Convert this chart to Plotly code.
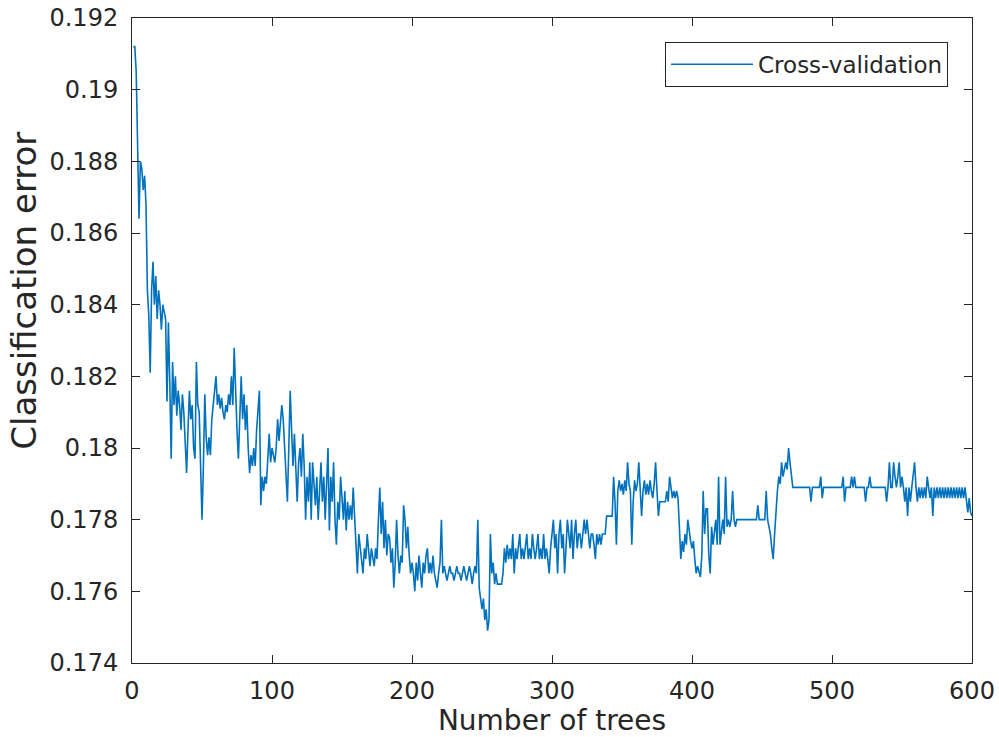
import plotly.graph_objects as go

# Classification error per number of trees (trees 1..600)
cv_error = [
    0.1912, 0.1912, 0.1905, 0.1880, 0.1864, 0.1880, 0.1878, 0.1872, 0.1876, 0.1868,
    0.1844, 0.1837, 0.1821, 0.1844, 0.1852, 0.1840, 0.1848, 0.1836, 0.1844, 0.1840,
    0.1833, 0.1840, 0.1838, 0.1836, 0.1813, 0.1835, 0.1818, 0.1797, 0.1824, 0.1812,
    0.1820, 0.1809, 0.1816, 0.1812, 0.1805, 0.1815, 0.1810, 0.1800, 0.1793, 0.1805,
    0.1816, 0.1808, 0.1812, 0.1800, 0.1797, 0.1824, 0.1812, 0.1810, 0.1798, 0.1780,
    0.1795, 0.1815, 0.1803, 0.1798, 0.1803, 0.1798, 0.1808, 0.1812, 0.1816, 0.1820,
    0.1812, 0.1815, 0.1811, 0.1814, 0.1810, 0.1808, 0.1812, 0.1810, 0.1815, 0.1812,
    0.1820, 0.1812, 0.1828, 0.1815, 0.1805, 0.1797, 0.1812, 0.1820, 0.1808, 0.1815,
    0.1805, 0.1812, 0.1800, 0.1793, 0.1798, 0.1795, 0.1800, 0.1795, 0.1805, 0.1812,
    0.1816, 0.1784, 0.1792, 0.1788, 0.1792, 0.1790, 0.1796, 0.1804, 0.1796, 0.1800,
    0.1798, 0.1796, 0.1800, 0.1808, 0.1802, 0.1806, 0.1812, 0.1808, 0.1800, 0.1796,
    0.1785, 0.1800, 0.1816, 0.1805, 0.1795, 0.1804, 0.1792, 0.1785, 0.1796, 0.1800,
    0.1792, 0.1804, 0.1795, 0.1780, 0.1792, 0.1785, 0.1796, 0.1780, 0.1796, 0.1788,
    0.1784, 0.1792, 0.1780, 0.1788, 0.1796, 0.1785, 0.1792, 0.1780, 0.1788, 0.1800,
    0.1777, 0.1792, 0.1785, 0.1796, 0.1780, 0.1773, 0.1785, 0.1780, 0.1792, 0.1785,
    0.1780, 0.1788, 0.1777, 0.1785, 0.1780, 0.1784, 0.1780, 0.1789, 0.1780, 0.1773,
    0.1765, 0.1776, 0.1772, 0.1768, 0.1765, 0.1772, 0.1769, 0.1776, 0.1770, 0.1767,
    0.1772, 0.1769, 0.1767, 0.1772, 0.1769, 0.1780, 0.1789, 0.1776, 0.1785, 0.1772,
    0.1780, 0.1770, 0.1776, 0.1775, 0.1768, 0.1772, 0.1761, 0.1768, 0.1780, 0.1770,
    0.1765, 0.1770, 0.1768, 0.1784, 0.1780, 0.1772, 0.1778, 0.1770, 0.1765, 0.1768,
    0.1765, 0.1760, 0.1768, 0.1763, 0.1770, 0.1765, 0.1761, 0.1768, 0.1765, 0.1770,
    0.1772, 0.1765, 0.1768, 0.1765, 0.1770, 0.1765, 0.1763, 0.1761, 0.1765, 0.1768,
    0.1780, 0.1765, 0.1767, 0.1765, 0.1763, 0.1765, 0.1767, 0.1765, 0.1765, 0.1763,
    0.1765, 0.1767, 0.1765, 0.1765, 0.1763, 0.1765, 0.1767, 0.1765, 0.1763, 0.1765,
    0.1767, 0.1765, 0.1762, 0.1765, 0.1767, 0.1765, 0.1780, 0.1761, 0.1758, 0.1755,
    0.1758, 0.1752, 0.1755, 0.1749, 0.1752, 0.1776, 0.1765, 0.1768, 0.1762, 0.1765,
    0.1762, 0.1762, 0.1762, 0.1762, 0.1765, 0.1772, 0.1768, 0.1773, 0.1769, 0.1772,
    0.1769, 0.1776, 0.1765, 0.1772, 0.1769, 0.1772, 0.1776, 0.1769, 0.1772, 0.1769,
    0.1772, 0.1776, 0.1769, 0.1772, 0.1769, 0.1776, 0.1772, 0.1769, 0.1772, 0.1776,
    0.1769, 0.1772, 0.1769, 0.1776, 0.1769, 0.1772, 0.1769, 0.1765, 0.1772, 0.1776,
    0.1780, 0.1772, 0.1776, 0.1765, 0.1776, 0.1780, 0.1772, 0.1776, 0.1765, 0.1772,
    0.1780, 0.1776, 0.1772, 0.1780, 0.1769, 0.1776, 0.1780, 0.1772, 0.1776, 0.1776,
    0.1772, 0.1776, 0.1780, 0.1776, 0.1780, 0.1776, 0.1772, 0.1776, 0.1776, 0.1773,
    0.1769, 0.1776, 0.1773, 0.1776, 0.1773, 0.1776, 0.1776, 0.1776, 0.1781, 0.1781,
    0.1781, 0.1781, 0.1781, 0.1792, 0.1785, 0.1773, 0.1788, 0.1791, 0.1788, 0.1790,
    0.1787, 0.1791, 0.1788, 0.1796, 0.1790, 0.1788, 0.1773, 0.1785, 0.1791, 0.1788,
    0.1790, 0.1796, 0.1787, 0.1781, 0.1788, 0.1791, 0.1787, 0.1790, 0.1787, 0.1791,
    0.1788, 0.1786, 0.1790, 0.1796, 0.1788, 0.1781, 0.1785, 0.1785, 0.1785, 0.1785,
    0.1785, 0.1788, 0.1785, 0.1792, 0.1788, 0.1786, 0.1788, 0.1786, 0.1788, 0.1786,
    0.1778, 0.1769, 0.1774, 0.1771, 0.1776, 0.1773, 0.1780, 0.1776, 0.1774, 0.1772,
    0.1774, 0.1769, 0.1765, 0.1767, 0.1765, 0.1764, 0.1770, 0.1788, 0.1776, 0.1783,
    0.1783, 0.1770, 0.1765, 0.1778, 0.1773, 0.1777, 0.1780, 0.1773, 0.1792, 0.1773,
    0.1777, 0.1780, 0.1776, 0.1792, 0.1778, 0.1780, 0.1778, 0.1780, 0.1788, 0.1780,
    0.1778, 0.1780, 0.1780, 0.1780, 0.1780, 0.1780, 0.1780, 0.1780, 0.1780, 0.1780,
    0.1780, 0.1780, 0.1780, 0.1780, 0.1780, 0.1780, 0.1784, 0.1780, 0.1780, 0.1780,
    0.1780, 0.1780, 0.1788, 0.1780, 0.1778, 0.1776, 0.1772, 0.1769, 0.1776, 0.1784,
    0.1788, 0.1792, 0.1790, 0.1796, 0.1792, 0.1794, 0.1796, 0.1794, 0.1800, 0.1796,
    0.1792, 0.1789, 0.1789, 0.1789, 0.1789, 0.1789, 0.1789, 0.1789, 0.1789, 0.1789,
    0.1789, 0.1789, 0.1789, 0.1789, 0.1785, 0.1789, 0.1789, 0.1789, 0.1789, 0.1789,
    0.1789, 0.1792, 0.1786, 0.1789, 0.1789, 0.1789, 0.1789, 0.1789, 0.1789, 0.1789,
    0.1789, 0.1789, 0.1789, 0.1789, 0.1789, 0.1789, 0.1789, 0.1792, 0.1785, 0.1789,
    0.1789, 0.1789, 0.1789, 0.1792, 0.1789, 0.1792, 0.1789, 0.1789, 0.1789, 0.1789,
    0.1789, 0.1789, 0.1789, 0.1785, 0.1789, 0.1789, 0.1792, 0.1789, 0.1789, 0.1789,
    0.1789, 0.1789, 0.1789, 0.1789, 0.1789, 0.1789, 0.1789, 0.1789, 0.1785, 0.1789,
    0.1796, 0.1789, 0.1789, 0.1796, 0.1792, 0.1789, 0.1792, 0.1796, 0.1789, 0.1792,
    0.1789, 0.1785, 0.1789, 0.1781, 0.1789, 0.1785, 0.1789, 0.1792, 0.1796, 0.1789,
    0.1785, 0.1789, 0.1786, 0.1789, 0.1786, 0.1789, 0.1786, 0.1792, 0.1789, 0.1786,
    0.1789, 0.1781, 0.1789, 0.1786, 0.1789, 0.1786, 0.1789, 0.1786, 0.1789, 0.1786,
    0.1789, 0.1786, 0.1789, 0.1786, 0.1789, 0.1786, 0.1789, 0.1786, 0.1789, 0.1786,
    0.1789, 0.1786, 0.1789, 0.1786, 0.1789, 0.1786, 0.1782, 0.1786, 0.1782, 0.1781,
]
n_trees = list(range(1, len(cv_error) + 1))

x_tick_vals = [0, 100, 200, 300, 400, 500, 600]
x_tick_text = ["0", "100", "200", "300", "400", "500", "600"]
y_tick_vals = [0.174, 0.176, 0.178, 0.18, 0.182, 0.184, 0.186, 0.188, 0.19, 0.192]
y_tick_text = ["0.174", "0.176", "0.178", "0.18", "0.182", "0.184", "0.186", "0.188", "0.19", "0.192"]

series_name = "Cross-validation"
x_title = "Number of trees"
y_title = "Classification error"

TEXT = "#262626"
FONT = "DejaVu Sans"

fig = go.Figure()
fig.add_trace(go.Scatter(
    x=n_trees, y=cv_error, mode="lines", name=series_name,
    line=dict(color="#0072BD", width=1.6),
    showlegend=True,
))

axis_common = dict(
    showline=True, linecolor=TEXT, linewidth=1, mirror="ticks",
    ticks="inside", ticklen=8, tickwidth=1, tickcolor=TEXT,
    showgrid=False, zeroline=False,
    tickfont=dict(family=FONT, size=24, color=TEXT),
)

fig.update_layout(
    width=999, height=737,
    margin=dict(l=132, r=27, t=18, b=74, autoexpand=False),
    paper_bgcolor="white", plot_bgcolor="white",
    font=dict(family=FONT, color=TEXT),
    xaxis=dict(
        range=[0, 600], tickvals=x_tick_vals, ticktext=x_tick_text,
        ticklabelstandoff=6, automargin=False,
        title=dict(text=x_title, font=dict(family=FONT, size=28, color=TEXT), standoff=4),
        **axis_common,
    ),
    yaxis=dict(
        range=[0.174, 0.192], tickvals=y_tick_vals, ticktext=y_tick_text,
        ticklabelstandoff=8, automargin=False,
        **axis_common,
    ),
    legend=dict(
        x=0.9715, xanchor="right", y=0.963, yanchor="top",
        bgcolor="white", bordercolor=TEXT, borderwidth=1,
        font=dict(family=FONT, size=23, color=TEXT),
        itemwidth=82,
    ),
    annotations=[dict(
        text=y_title, textangle=-90,
        xref="paper", yref="paper", x=-0.1286, y=0.577,
        xanchor="center", yanchor="middle", showarrow=False,
        font=dict(family=FONT, size=34, color=TEXT),
    )],
)

fig.write_html("out.html")
